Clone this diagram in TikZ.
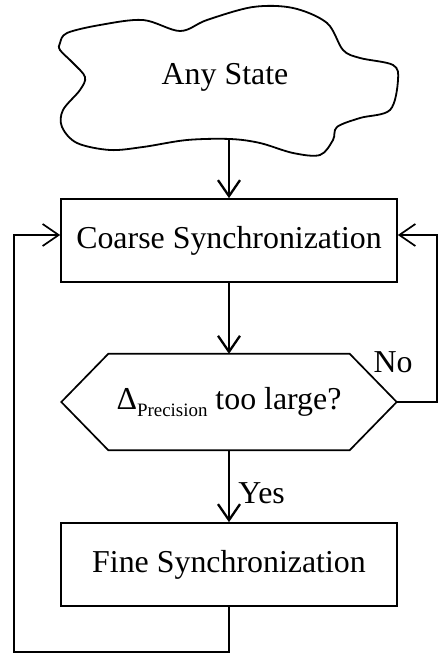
\documentclass[tikz,border=0pt]{standalone}
\usepackage{fontspec}
\setmainfont{Liberation Serif}
\usetikzlibrary{arrows.meta}
\tikzset{
  block/.style={draw, line width=1.7bp, minimum width=336bp, minimum height=83bp, inner sep=0pt},
  flow/.style={line width=2.3bp, -{Straight Barb[length=16bp,width=22bp]}},
  loopline/.style={line width=1.7bp, -{Straight Barb[length=16bp,width=22bp]}},
}
\newcommand{\bigfont}{\fontsize{32}{37}\selectfont}
\newcommand{\deltaprec}{Δ\raisebox{-7bp}{\fontsize{19}{20}\selectfont Precision}}
\newcommand{\cloudshape}[1]
{   \draw[#1] plot[smooth cycle, tension=0.55] coordinates {(60,43) (67,33) (100,25) (143,20) (180,31) (207,20)
      (253,7) (293,8) (327,23) (343,50) (360,58) (393,65) (398,80) (390,110) (360,118) (337,127) (333,140)
      (320,155) (293,153) (260,143) (230,139) (187,140) (143,147) (110,150) (77,143) (62,127) (63,110)
      (80,90) (85,77) (73,63) (60,50)};
}

\begin{document}
\begin{tikzpicture}[x=1bp,y=-1bp,font=\bigfont]
 \useasboundingbox (0,0) rectangle (438,654);

 \cloudshape{line width=1.8bp}
 \node (state) at (225,77) {Any State};
 \coordinate (statebot) at (229,139);

 \node[block] (coarse) at (229,240.5) {Coarse Synchronization};
 \node[minimum width=335bp, minimum height=96bp, inner sep=0pt] (check) at (229,402) {\deltaprec{} too large?};
 \draw[line width=1.7bp] (check.west) -- ([xshift=47bp]check.north west) -- ([xshift=-47bp]check.north east)
   -- (check.east) -- ([xshift=-47bp]check.south east) -- ([xshift=47bp]check.south west) -- cycle;
 \node[block] (fine) at (229,564.5) {Fine Synchronization};

 \draw[flow] (statebot) -- (coarse);
 \draw[flow] (coarse) -- (check);
 \draw[flow] (check) -- node[right, xshift=5bp, pos=0.6] (yes) {Yes} (fine);

 \node (no) at (393,362) {No};
 \coordinate (rightcorner) at (437,402);
 \coordinate (loopcorner) at (14,652);
 \draw[loopline] (check.east) -- (rightcorner) |- ([yshift=5.5bp]coarse.east);
 \draw[loopline] (fine.south) |- (loopcorner) |- ([yshift=5.5bp]coarse.west);
\end{tikzpicture}
\end{document}
